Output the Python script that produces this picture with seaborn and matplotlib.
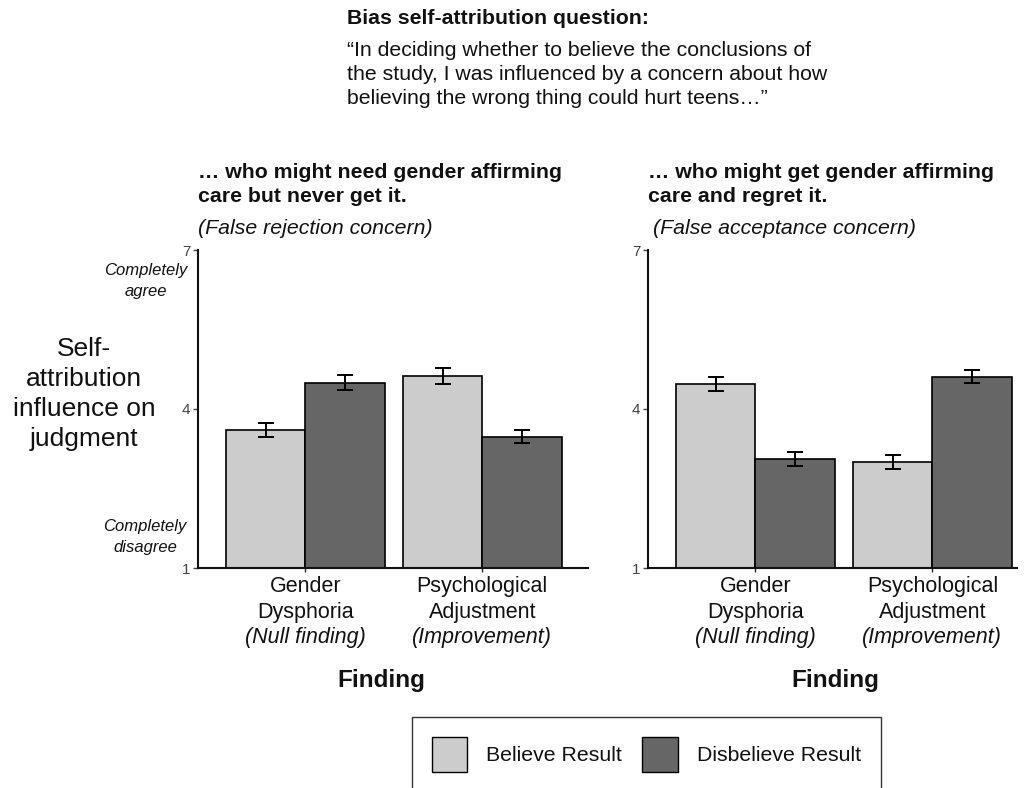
import matplotlib
matplotlib.use("Agg")
import matplotlib.pyplot as plt
import seaborn as sns
import pandas as pd
from matplotlib.patches import Patch

# Category and group labels
findings = ["Gender Dysphoria", "Psychological Adjustment"]
finding_lines = [("Gender", "Dysphoria"), ("Psychological", "Adjustment")]
finding_notes = ["(Null finding)", "(Improvement)"]
belief_levels = ["Believe Result", "Disbelieve Result"]

# Mean self-attribution ratings (1-7 scale) and standard errors
rejection_believe = [3.60, 4.62]
rejection_disbelieve = [4.50, 3.48]
rejection_believe_se = [0.13, 0.15]
rejection_disbelieve_se = [0.14, 0.12]

acceptance_believe = [4.47, 3.00]
acceptance_disbelieve = [3.06, 4.61]
acceptance_believe_se = [0.13, 0.13]
acceptance_disbelieve_se = [0.13, 0.12]

y_ticks = [1, 4, 7]

sns.set_theme(style="ticks")
plt.rcParams["font.family"] = ["Liberation Sans", "DejaVu Sans"]

W, H = 1024, 788
fig = plt.figure(figsize=(W / 100, H / 100), dpi=100)
INK = "#111111"


def fx(x):
    return x / W


def fy(y):
    return 1 - y / H


palette = {"Believe Result": "#cccccc", "Disbelieve Result": "#666666"}


def panel(rect, xlim, believe, disbelieve, believe_se, disbelieve_se):
    ax = fig.add_axes(rect)
    df = pd.DataFrame({
        "Finding": findings * 2,
        "Belief": [belief_levels[0]] * 2 + [belief_levels[1]] * 2,
        "Rating": list(believe) + list(disbelieve),
        "SE": list(believe_se) + list(disbelieve_se),
    })
    sns.barplot(data=df, x="Finding", y="Rating", hue="Belief",
                order=findings, hue_order=belief_levels, palette=palette,
                width=0.9, errorbar=None, edgecolor="black", linewidth=1.2,
                saturation=1, legend=False, ax=ax)
    # Standard-error bars on top of every bar
    for container, level in zip(ax.containers, belief_levels):
        sub = df[df["Belief"] == level].set_index("Finding").loc[findings]
        xs = [b.get_x() + b.get_width() / 2 for b in container]
        ax.errorbar(xs, sub["Rating"].values, yerr=sub["SE"].values,
                    fmt="none", ecolor="black", elinewidth=1.4,
                    capsize=6, capthick=1.4, zorder=5)
    ax.set_ylim(1, 7)
    ax.set_xlim(*xlim)
    ax.set_yticks(y_ticks)
    ax.set_yticklabels([str(t) for t in y_ticks], fontsize=11, color="#444444")
    ax.tick_params(axis="y", length=3.5, width=1, pad=2, colors="#444444")
    ax.tick_params(axis="x", length=3, width=1, pad=3)
    ax.set_xticks(range(len(findings)))
    ax.set_xticklabels(["\n".join(l) for l in finding_lines], fontsize=15.5,
                       linespacing=1.27, color=INK)
    for i, note in enumerate(finding_notes):
        ax.annotate(note, xy=(i, 0), xycoords=ax.get_xaxis_transform(),
                    xytext=(0, -50), textcoords="offset points",
                    ha="center", va="center", fontsize=15.5, style="italic",
                    color=INK)
    ax.set_ylabel("")
    ax.set_xlabel("")
    for side in ["top", "right"]:
        ax.spines[side].set_visible(False)
    for side in ["left", "bottom"]:
        ax.spines[side].set_linewidth(1.5)
        ax.spines[side].set_color(INK)
    return ax


ax_top, ax_bot = fy(250), fy(568)
ax_h = ax_top - ax_bot

ax1 = panel([fx(198), ax_bot, fx(390), ax_h], (-0.607, 1.597),
            rejection_believe, rejection_disbelieve,
            rejection_believe_se, rejection_disbelieve_se)
ax2 = panel([fx(648), ax_bot, fx(369), ax_h], (-0.607, 1.478),
            acceptance_believe, acceptance_disbelieve,
            acceptance_believe_se, acceptance_disbelieve_se)

# Axis titles under each panel
fig.text(fx(381), fy(681), "Finding", fontsize=17.5, fontweight="bold",
         ha="center", va="center", color=INK)
fig.text(fx(835), fy(681), "Finding", fontsize=17.5, fontweight="bold",
         ha="center", va="center", color=INK)

# Question header
fig.text(fx(347), fy(19), "Bias self-attribution question:", fontsize=15.3,
         fontweight="bold", va="center", color=INK)
quote_lines = ["\u201cIn deciding whether to believe the conclusions of",
               "the study, I was influenced by a concern about how",
               "believing the wrong thing could hurt teens\u2026\u201d"]
for yy, line in zip([51, 75, 99], quote_lines):
    fig.text(fx(347), fy(yy), line, fontsize=15.3, va="center", color=INK)

# Panel headings
left_head = ["\u2026 who might need gender affirming", "care but never get it."]
right_head = ["\u2026 who might get gender affirming", "care and regret it."]
for yy, a, b in zip([172, 197], left_head, right_head):
    fig.text(fx(198), fy(yy), a, fontsize=15.3, fontweight="bold",
             va="center", color=INK)
    fig.text(fx(648), fy(yy), b, fontsize=15.3, fontweight="bold",
             va="center", color=INK)
fig.text(fx(198), fy(228), "(False rejection concern)", fontsize=15.3,
         style="italic", va="center", color=INK)
fig.text(fx(653), fy(228), "(False acceptance concern)", fontsize=15.3,
         style="italic", va="center", color=INK)

# Shared y-axis label and scale anchors
fig.text(fx(84), fy(394), "Self-\nattribution\ninfluence on\njudgment",
         fontsize=19, ha="center", va="center", linespacing=1.3, color=INK)
fig.text(fx(146), fy(281), "Completely\nagree", fontsize=12, style="italic",
         ha="center", va="center", linespacing=1.45, color=INK)
fig.text(fx(145), fy(537), "Completely\ndisagree", fontsize=12,
         style="italic", ha="center", va="center", linespacing=1.45,
         color=INK)

# Legend
handles = [Patch(facecolor=palette[l], edgecolor="black", linewidth=1.0)
           for l in belief_levels]
leg = fig.legend(handles, belief_levels, loc="upper left",
                 bbox_to_anchor=(fx(412), fy(717)), ncol=2, fontsize=15.3,
                 frameon=True, fancybox=False, edgecolor="black",
                 handlelength=1.65, handleheight=2.16, handletextpad=0.9,
                 columnspacing=0.95, borderpad=0.95, borderaxespad=0)
leg.get_frame().set_linewidth(1.0)
for t in leg.get_texts():
    t.set_color(INK)

fig.savefig("out.png", dpi=100, facecolor="white")
